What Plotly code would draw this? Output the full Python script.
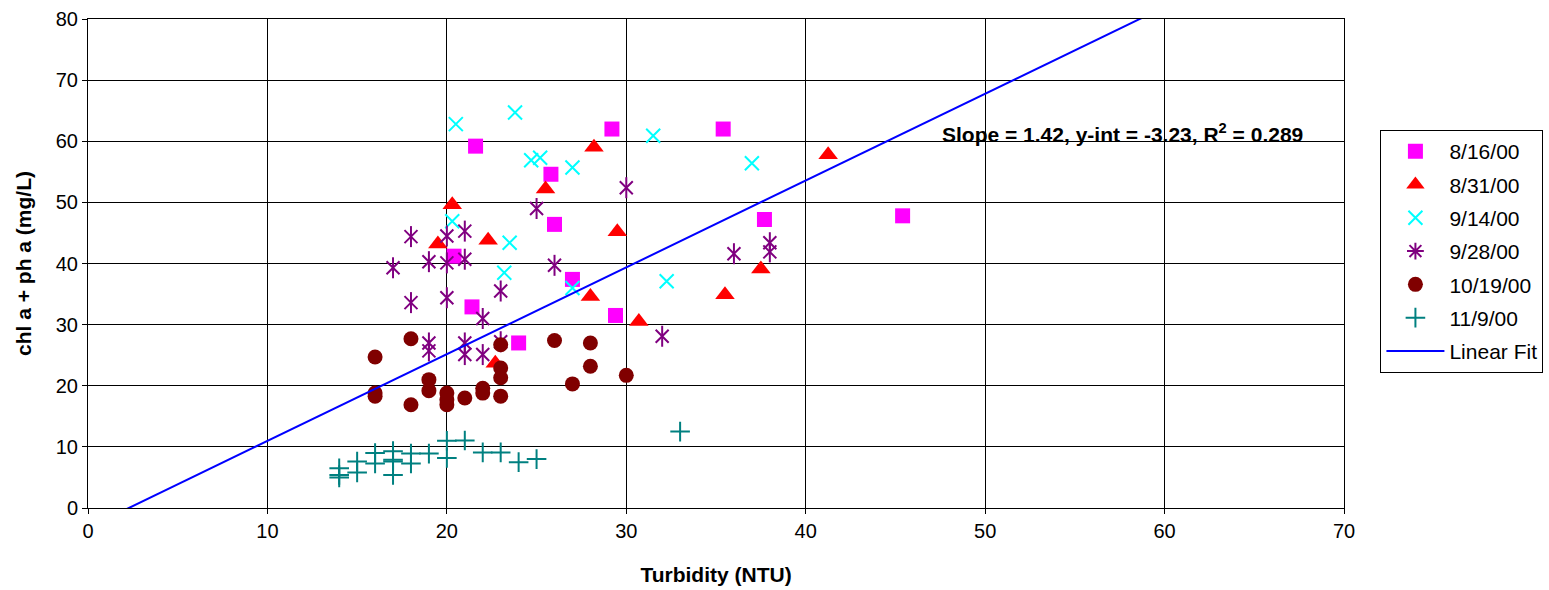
import plotly.graph_objects as go

# ---- data ----
x_0816 = [21.6, 29.2, 35.4, 25.8, 26.0, 37.7, 45.4, 20.4, 21.4, 27.0, 29.4, 24.0]
y_0816 = [59.2, 62.0, 62.0, 54.6, 46.4, 47.2, 47.8, 41.2, 32.9, 37.4, 31.5, 27.0]

x_0831 = [28.2, 25.5, 20.3, 29.5, 22.3, 19.5, 28.0, 35.5, 30.7, 22.7, 41.25, 37.5]
y_0831 = [59.0, 52.2, 49.6, 45.2, 43.8, 43.2, 34.6, 34.9, 30.5, 23.7, 57.8, 39.1]

x_0914 = [20.5, 23.8, 31.5, 24.7, 25.2, 27.0, 37.0, 20.3, 23.5, 23.2, 27.0, 32.25]
y_0914 = [62.8, 64.7, 60.9, 56.9, 57.3, 55.7, 56.4, 46.9, 43.4, 38.5, 36.0, 37.1]

x_0928 = [30, 25, 18, 20, 21, 19, 20, 21, 17, 26, 36, 18, 20, 23, 22, 32,
          19, 19, 21, 21, 22, 23, 38, 38]
y_0928 = [52.4, 49.0, 44.4, 44.5, 45.3, 40.3, 40.1, 40.7, 39.3, 39.7, 41.6,
          33.6, 34.4, 35.5, 31.0, 28.1, 27.0, 25.7, 27.0, 25.1, 25.1, 27.2,
          43.4, 41.9]

x_1019 = [18, 16, 23, 26, 28, 28, 30, 27, 23, 23, 23, 19, 19, 16, 16, 18,
          20, 20, 20, 21, 22, 22]
y_1019 = [27.7, 24.7, 26.7, 27.4, 27.0, 23.2, 21.7, 20.3, 22.9, 21.3, 18.3,
          21.0, 19.2, 18.8, 18.3, 16.9, 18.8, 17.7, 16.9, 18.0, 19.6, 18.8]

x_1109 = [33, 20, 21, 20, 19, 22, 23, 24, 25, 18, 18, 17, 17, 17, 17, 16,
          16, 15, 15, 14, 14, 14]
y_1109 = [12.5, 11.0, 11.05, 8.2, 8.9, 9.1, 9.1, 7.5, 8.0, 8.9, 7.3, 9.3,
          7.9, 7.6, 5.4, 9.0, 7.3, 7.6, 5.8, 6.5, 5.4, 5.0]

fit_slope = 1.42
fit_intercept = -3.23
fit_r2 = 0.289
fit_x = [1.6, 59.7]

x_ticks = [0, 10, 20, 30, 40, 50, 60, 70]
y_ticks = [0, 10, 20, 30, 40, 50, 60, 70, 80]

FONT = "Arial, 'Liberation Sans', sans-serif"

fig = go.Figure()

def add(name, xs, ys, symbol, color, size, lw=0, group=None, showlegend=True):
    fig.add_trace(go.Scatter(
        x=xs, y=ys, mode="markers", name=name,
        legendgroup=group or name, showlegend=showlegend,
        marker=dict(symbol=symbol, color=color, size=size,
                    line=dict(color=color, width=lw)),
        cliponaxis=False,
    ))

add("8/16/00", x_0816, y_0816, "square", "#FF00FF", 15)
add("8/31/00", x_0831, y_0831, "triangle-up", "#FF0000", 17)
add("9/14/00", x_0914, y_0914, "x-thin-open", "#00FFFF", 14, 2)
# 9/28: six-armed star = x + vertical line
add("9/28/00", [None], [None], "asterisk-open", "#800080", 14, 2, group="g928")
add("9/28/00", x_0928, y_0928, "x-thin-open", "#800080", 13, 2, group="g928", showlegend=False)
add("9/28/00", x_0928, y_0928, "line-ns-open", "#800080", 15, 2, group="g928", showlegend=False)
add("10/19/00", x_1019, y_1019, "circle", "#800000", 15)
add("11/9/00", x_1109, y_1109, "cross-thin-open", "#008080", 14, 2)

fit_y = [fit_slope * v + fit_intercept for v in fit_x]
fig.add_trace(go.Scatter(
    x=fit_x, y=fit_y, mode="lines", name="Linear Fit",
    legendgroup="fit", line=dict(color="#0000FF", width=2),
))

fig.add_annotation(
    x=47.5, y=61.4, xref="x", yref="y", xanchor="left", yanchor="middle",
    text=f"<b>Slope = {fit_slope:.2f}, y-int = {fit_intercept:.2f}, R<sup>2</sup> = {fit_r2:.3f}</b>",
    showarrow=False, font=dict(family=FONT, size=21, color="black"),
)

axis_common = dict(
    showline=True, linecolor="black", linewidth=1, mirror=True,
    showgrid=True, gridcolor="black", gridwidth=1,
    ticks="outside", ticklen=5, tickcolor="black",
    tickfont=dict(family=FONT, size=20, color="black"),
    zeroline=False, automargin=False,
)

fig.update_layout(
    width=1549, height=590,
    margin=dict(l=88, r=205, t=19, b=82, autoexpand=False),
    paper_bgcolor="white", plot_bgcolor="white",
    font=dict(family=FONT, size=20, color="black"),
    xaxis=dict(range=[0, 70], tickvals=x_ticks,
               title=dict(text="<b>Turbidity (NTU)</b>", font=dict(family=FONT, size=21), standoff=26),
               **axis_common),
    yaxis=dict(range=[0, 80], tickvals=y_ticks,
               title=dict(text="<b>chl a + ph a (mg/L)</b>", font=dict(family=FONT, size=21), standoff=18),
               **axis_common),
    legend=dict(
        x=1.029, y=0.773, xanchor="left", yanchor="top",
        bordercolor="black", borderwidth=1, bgcolor="white",
        font=dict(family=FONT, size=21, color="black"),
        tracegroupgap=3, itemwidth=58,
    ),
)

fig.write_html("out.html")
